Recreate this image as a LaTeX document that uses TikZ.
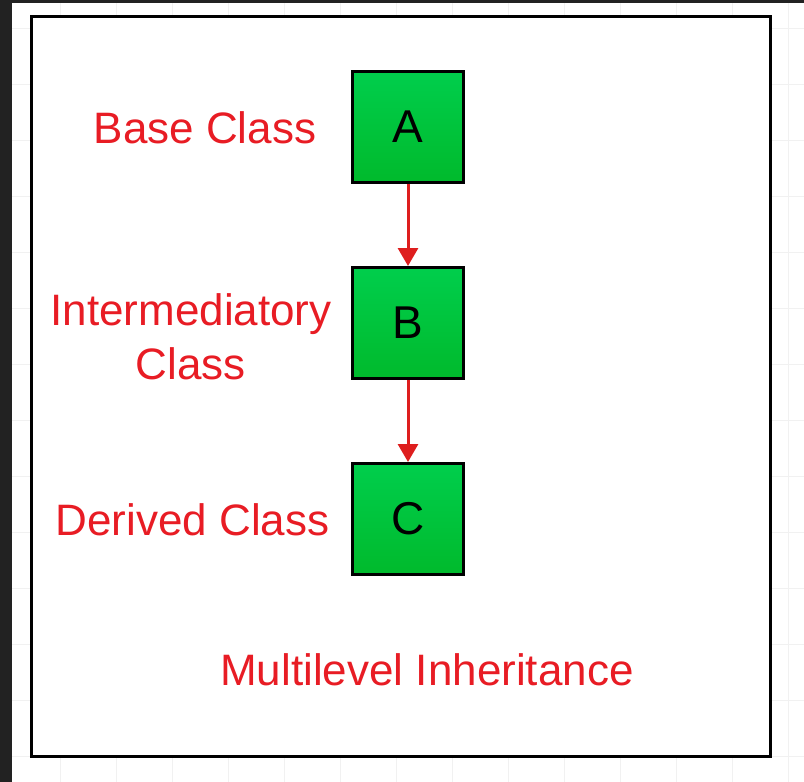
\documentclass[tikz,border=0pt]{standalone}
\usepackage{fontspec}
\setmainfont{Liberation Sans}
\usepackage{xcolor}
\usepackage{tikz}
\usetikzlibrary{arrows.meta}

\definecolor{labelred}{RGB}{232,28,36}
\definecolor{arrowred}{RGB}{222,30,30}
\definecolor{boxtop}{RGB}{0,206,76}
\definecolor{boxbot}{RGB}{0,186,44}
\definecolor{darkbg}{RGB}{34,34,34}
\definecolor{gridline}{RGB}{241,241,241}

\tikzset{
	classbox/.style={draw=black,line width=1.5pt,top color=boxtop,bottom color=boxbot,
		minimum size=55.5pt,inner sep=0pt,font=\fontsize{23pt}{26pt}\selectfont},
	classlabel/.style={text=labelred,inner sep=0pt,font=\fontsize{22pt}{27pt}\selectfont}
}

\begin{document}
\begin{tikzpicture}[x=0.5pt,y=-0.5pt]
		\useasboundingbox (0,0) rectangle (804,782);
		\fill[white] (0,0) rectangle (804,782);
		\foreach \gx in {60,116,...,800} \draw[gridline,line width=0.5pt] (\gx,0) -- (\gx,782);
		\foreach \gy in {28,84,...,780} \draw[gridline,line width=0.5pt] (0,\gy) -- (804,\gy);
		\fill[darkbg] (0,0) rectangle (12,782);
		\fill[darkbg] (0,0) rectangle (804,3);
		\draw[black,line width=1.5pt,fill=white] (31.5,16.5) rectangle (770.5,756);
		%
		\node[classbox] (A) at (408,126.5) {A};
		\node[classbox] (B) at (408,323) {B};
		\node[classbox] (C) at (408,519) {C};
		%
		\path[->,>={Triangle[length=9pt,width=10pt]},draw=arrowred,fill=arrowred,line width=1.5pt]
		(A) edge (B)
		(B) edge (C);
		%
		\node[classlabel,anchor=base] (base) at (205,143) {Base Class};
		\node[classlabel,align=center] (inter) at (191,337) {Intermediatory\\Class};
		\node[classlabel,anchor=base] (derived) at (192.5,535) {Derived Class};
		\node[classlabel,anchor=base] (title) at (427,685) {Multilevel Inheritance};
		\end{tikzpicture}
\end{document}
